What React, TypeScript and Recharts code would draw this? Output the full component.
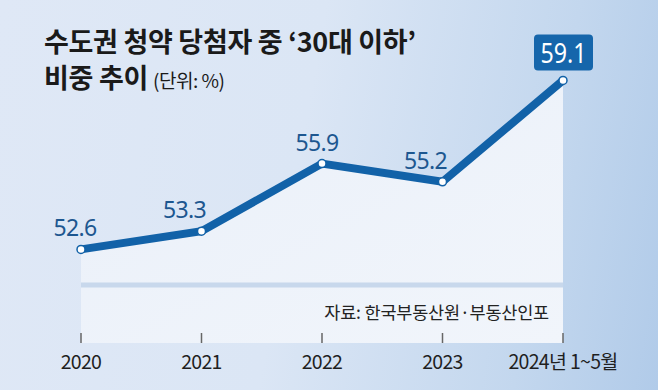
import React from "react";
import { AreaChart, Area, XAxis, YAxis, ReferenceLine } from "recharts";

const years = ["2020", "2021", "2022", "2023", "2024년 1~5월"];
const shares = [52.6, 53.3, 55.9, 55.2, 59.1];
const labelDx = [-6, -17, -5, -17, 0];
const bandValue = 51.23;

const data = years.map((year, i) => ({ year, value: shares[i] }));

const LINE = "#1262a8";
const NUM_FONT = "'Noto Sans', 'Open Sans', sans-serif";
const KR_FONT = "'Noto Sans CJK KR', 'Noto Sans', sans-serif";

const Dot = (props: any) => {
  const { cx, cy } = props;
  if (cx == null || cy == null) return null;
  return <circle cx={cx} cy={cy} r={4} fill="#ffffff" stroke={LINE} strokeWidth={1.5} />;
};

const ValueLabel = (props: any) => {
  const { x, y, value, index } = props;
  if (index === shares.length - 1) {
    return (
      <g>
        <rect x={x - 29} y={y - 46} width={59} height={36} rx={4} fill="#1666ab" />
        <text
          x={x + 0.5}
          y={y - 17}
          textAnchor="middle"
          fill="#ffffff"
          fontSize={28}
          fontFamily={NUM_FONT}
          textLength={46}
          lengthAdjust="spacingAndGlyphs"
        >
          {value}
        </text>
      </g>
    );
  }
  return (
    <text
      x={x + labelDx[index]}
      y={y - 13}
      textAnchor="middle"
      fill="#1d5790"
      fontSize={23}
      fontFamily={NUM_FONT}
      letterSpacing={-0.6}
    >
      {value}
    </text>
  );
};

const Tick = (props: any) => {
  const { x, y, payload } = props;
  return (
    <g>
      <line x1={x} x2={x} y1={y - 10} y2={y} stroke="#666" strokeWidth={1.5} />
      <text
        x={x}
        y={y + 26}
        textAnchor="middle"
        fill="#1f1f1f"
        fontSize={19.5}
        fontFamily={KR_FONT}
        letterSpacing={-0.7}
      >
        {payload.value}
      </text>
    </g>
  );
};

export default function App() {
  return (
    <div
      style={{
        position: "absolute",
        left: 0,
        top: 0,
        width: 658,
        height: 390,
        overflow: "hidden",
        background: "linear-gradient(100deg, #dfe8f6 0%, #dbe6f5 45%, #c3d7ee 80%, #b1cbe9 100%)",
      }}
    >
      <div
        style={{
          position: "absolute",
          left: 44,
          top: 23,
          fontFamily: KR_FONT,
          fontWeight: 700,
          fontSize: 27,
          lineHeight: "36px",
          letterSpacing: -0.3,
          color: "#1a1a1a",
          whiteSpace: "nowrap",
        }}
      >
        <div>수도권 청약 당첨자 중 ‘30대 이하’</div>
        <div>
          비중 추이
          <span style={{ fontWeight: 400, fontSize: 19, letterSpacing: -0.5, marginLeft: 5 }}>(단위: %)</span>
        </div>
      </div>
      <div style={{ position: "absolute", left: 0, top: 0 }}>
        <AreaChart width={658} height={390} data={data} margin={{ top: 57, right: 95, bottom: 0, left: 81 }}>
          <defs>
            <linearGradient id="areaFill" x1="0" y1="0" x2="1" y2="1">
              <stop offset="0%" stopColor="#eaf0f9" />
              <stop offset="100%" stopColor="#f1f5fb" />
            </linearGradient>
          </defs>
          <XAxis
            dataKey="year"
            scale="point"
            padding={{ left: 0, right: 0 }}
            axisLine={false}
            tickLine={false}
            tickSize={0}
            tickMargin={0}
            height={47}
            tick={<Tick />}
            interval={0}
          />
          <YAxis hide domain={[49, 60]} />
          <Area
            type="linear"
            dataKey="value"
            stroke={LINE}
            strokeWidth={8}
            fill="url(#areaFill)"
            fillOpacity={1}
            dot={<Dot />}
            activeDot={false}
            label={<ValueLabel />}
            isAnimationActive={false}
          />
          <ReferenceLine y={bandValue} stroke="#c8d8ec" strokeWidth={5} />
        </AreaChart>
      </div>
      <div
        style={{
          position: "absolute",
          right: 109,
          top: 300,
          fontFamily: KR_FONT,
          fontSize: 17.5,
          lineHeight: "24px",
          letterSpacing: -0.2,
          color: "#222",
          whiteSpace: "nowrap",
        }}
      >
        자료: 한국부동산원·부동산인포
      </div>
    </div>
  );
}
